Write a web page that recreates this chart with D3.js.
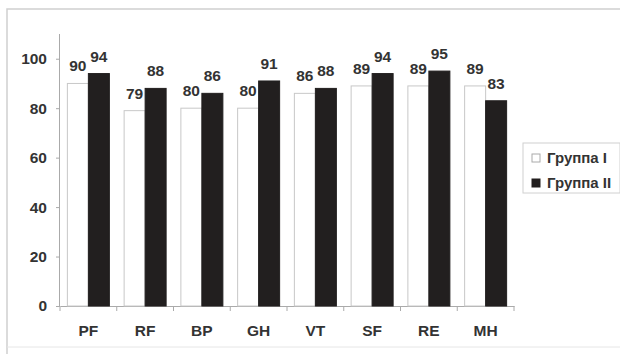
<!DOCTYPE html>
<html><head><meta charset="utf-8">
<script src="https://cdn.jsdelivr.net/npm/d3@7"></script>
<style>body{margin:0;background:#fff}svg{display:block}text{font-family:Arial,"Liberation Sans",sans-serif;font-weight:bold;fill:#333}</style>
</head><body><svg id="c" width="620" height="354"></svg>
<script>
const categories = ["PF","RF","BP","GH","VT","SF","RE","MH"];
const group1 = [90,79,80,80,86,89,89,89];
const group2 = [94,88,86,91,88,94,95,83];
const seriesNames = ["Группа I","Группа II"];
const yTicks = [0,20,40,60,80,100];

const svg = d3.select("#c");
const m = {l:60, r:106, t:34, b:48};
const W = 620, H = 354;

// outer frame
svg.append("path").attr("d","M7,354 V9 H620").attr("fill","none").attr("stroke","#d0d0d0").attr("stroke-width",1.5);
svg.append("line").attr("x1",7).attr("x2",620).attr("y1",347).attr("y2",347).attr("stroke","#e6e6e6");

const x = d3.scaleBand().domain(categories).range([m.l, W-m.r]).paddingInner(0.26).paddingOuter(0.13);
const xs = d3.scaleBand().domain([0,1]).range([0, x.bandwidth()]);
const y = d3.scaleLinear().domain([0,110]).range([H-m.b, m.t]);

// axes
const yAx = svg.append("g").attr("transform",`translate(${m.l},0)`)
  .call(d3.axisLeft(y).tickValues(yTicks).tickSize(4).tickPadding(9));
yAx.select(".domain").attr("stroke","#aaa").attr("d",`M-0.5,${y(110)}V${y(0)}`);
yAx.selectAll(".tick line").attr("stroke","#aaa");
yAx.selectAll("text").attr("font-size",15.5).attr("fill","#333");

const xAxScale = d3.scaleBand().domain(categories).range([m.l, W-m.r]);
const xAx = svg.append("g").attr("transform",`translate(0,${y(0)})`)
  .call(d3.axisBottom(xAxScale).tickSize(0).tickPadding(19));
xAx.select(".domain").attr("stroke","#aaa");
xAx.selectAll("text").attr("font-size",15.5).attr("fill","#333");
// category separators below the axis
svg.append("g").selectAll("line").data(d3.range(categories.length+1)).join("line")
  .attr("x1",i=>m.l+i*xAxScale.step()).attr("x2",i=>m.l+i*xAxScale.step())
  .attr("y1",y(0)).attr("y2",y(0)+5).attr("stroke","#aaa");

const data = categories.map((c,i)=>({c, v:[group1[i],group2[i]]}));
const g = svg.append("g");
const grp = g.selectAll("g").data(data).join("g").attr("transform",d=>`translate(${x(d.c)},0)`);
grp.selectAll("rect").data(d=>d.v.map((v,k)=>({v,k}))).join("rect")
  .attr("x",d=>xs(d.k)).attr("width",xs.bandwidth())
  .attr("y",d=>y(d.v)).attr("height",d=>y(0)-y(d.v))
  .attr("fill",d=>d.k?"#221f1f":"#fff")
  .attr("stroke",d=>d.k?"#221f1f":"#c8c8c8").attr("stroke-width",1);
grp.selectAll("text.v").data(d=>d.v.map((v,k)=>({v,k}))).join("text").attr("class","v")
  .attr("x",d=>xs(d.k)+xs.bandwidth()/2).attr("y",d=>y(d.v)-12)
  .attr("text-anchor","middle").attr("font-size",15.5).text(d=>d.v);

// legend
const lg = svg.append("g").attr("transform","translate(523,143)");
lg.append("rect").attr("width",97).attr("height",50).attr("fill","#fff").attr("stroke","#d0d0d0");
seriesNames.forEach((s,i)=>{
  const yy = 15 + i*25;
  lg.append("rect").attr("x",9).attr("y",yy-4).attr("width",8).attr("height",8)
    .attr("fill",i?"#221f1f":"#fff").attr("stroke",i?"#221f1f":"#aaa");
  lg.append("text").attr("x",24).attr("y",yy).attr("dy","0.35em").attr("font-size",15).text(s);
});
</script></body></html>
